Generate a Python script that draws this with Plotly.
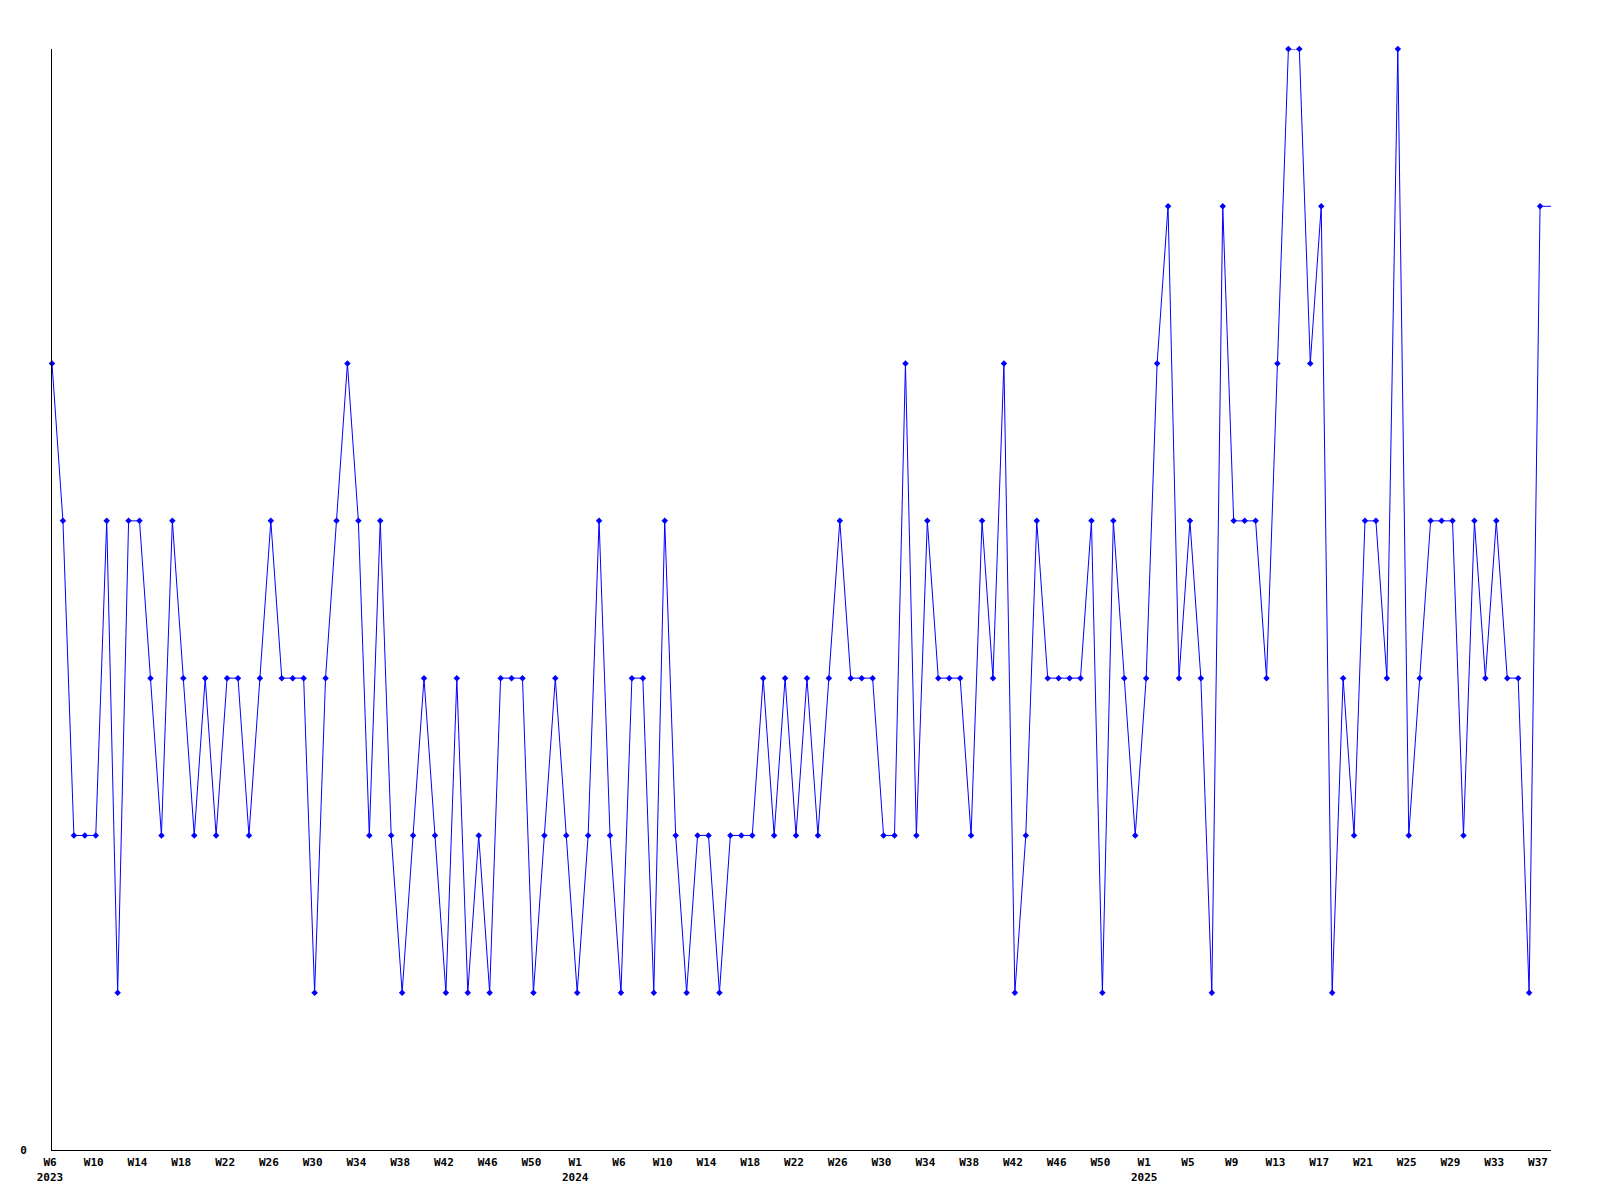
import plotly.graph_objects as go

# Weekly values, 2023 W6 .. 2025 W37 (last entry = current, unfinished week, drawn without marker)
values = [
    5, 4, 2, 2, 2, 4, 1, 4, 4, 3, 2, 4, 3, 2, 3, 2, 3, 3, 2, 3, 4, 3, 3, 3, 1, 3, 4, 5, 4, 2, 4, 2, 1,
    2, 3, 2, 1, 3, 1, 2, 1, 3, 3, 3, 1, 2, 3, 2, 1, 2, 4, 2, 1, 3, 3, 1, 4, 2, 1, 2, 2, 1, 2, 2, 2, 3, 2,
    3, 2, 3, 2, 3, 4, 3, 3, 3, 2, 2, 5, 2, 4, 3, 3, 3, 2, 4, 3, 5, 1, 2, 4, 3, 3, 3, 3, 4, 1, 4, 3, 2,
    3, 5, 6, 3, 4, 3, 1, 6, 4, 4, 4, 3, 5, 7, 7, 5, 6, 1, 3, 2, 4, 4, 3, 7, 2, 3, 4, 4, 4, 2, 4, 3, 4, 3, 3, 1, 6,
    6,
]

# One label every 4th point
tick_step = 4
tick_labels = [
    "W6<br>2023", "W10", "W14", "W18", "W22", "W26", "W30", "W34", "W38", "W42", "W46", "W50",
    "W1<br>2024", "W6", "W10", "W14", "W18", "W22", "W26", "W30", "W34", "W38", "W42", "W46", "W50",
    "W1<br>2025", "W5", "W9", "W13", "W17", "W21", "W25", "W29", "W33", "W37",
]

x_all = list(range(len(values)))
x_marked = x_all[:-1]
y_marked = values[:-1]
tick_vals = [i * tick_step for i in range(len(tick_labels))]

font = dict(family="DejaVu Sans Mono", size=11, color="black", weight="bold")

fig = go.Figure()
fig.add_trace(go.Scatter(
    x=x_all, y=values, mode="lines",
    line=dict(color="#0000ff", width=1),
    cliponaxis=False, hoverinfo="skip", showlegend=False,
))
fig.add_trace(go.Scatter(
    x=x_marked, y=y_marked, mode="markers",
    marker=dict(symbol="diamond", size=5, color="#0000ff", line=dict(width=0)),
    cliponaxis=False, showlegend=False,
))

fig.update_layout(
    width=1600, height=1200,
    margin=dict(l=42, r=57, t=41, b=58),
    paper_bgcolor="white", plot_bgcolor="white",
    font=font,
    showlegend=False,
)
fig.update_xaxes(
    range=[0, len(values) - 1],
    tickmode="array", tickvals=tick_vals, ticktext=tick_labels,
    showgrid=False, zeroline=False,
    showline=True, linecolor="black", linewidth=1,
    ticks="", tickfont=font, tickangle=0, ticklabelstandoff=2, ticklabelshift=-2,
)
fig.update_yaxes(
    range=[0, 7],
    tickmode="array", tickvals=[0], ticktext=["0"],
    showgrid=False, zeroline=False,
    showline=True, linecolor="black", linewidth=1,
    ticks="", tickfont=font, ticklabelstandoff=22,
)

fig.write_html("out.html")
